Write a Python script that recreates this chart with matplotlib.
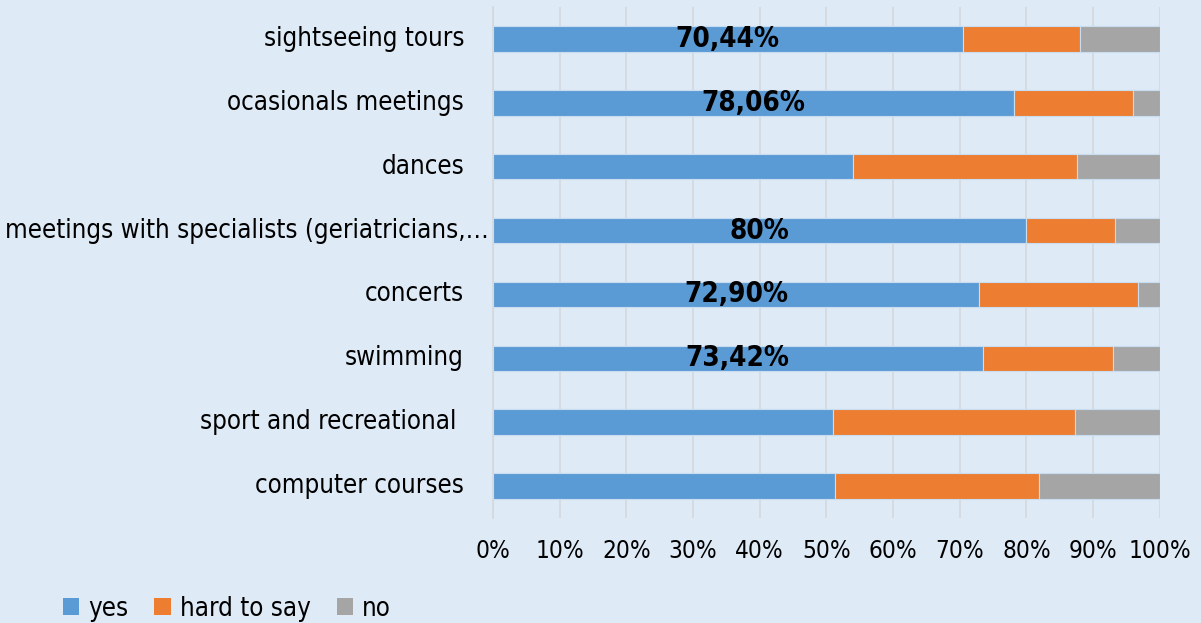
import matplotlib
matplotlib.use("Agg")
import matplotlib.pyplot as plt
from matplotlib import font_manager, transforms
from matplotlib.ticker import FixedLocator, FuncFormatter

categories = ["sightseeing tours", "ocasionals meetings", "dances",
              "meetings with specialists (geriatricians,\u2026", "concerts",
              "swimming", "sport and recreational ", "computer courses"]
yes = [70.44, 78.06, 54.06, 80.0, 72.90, 73.42, 51.03, 51.3]
hard = [17.63, 17.94, 33.54, 13.3, 23.8, 19.58, 36.27, 30.6]
no = [11.93, 4.0, 12.4, 6.7, 3.3, 7.0, 12.7, 18.1]
labels = ["70,44%", "78,06%", "", "80%", "72,90%", "73,42%", "", ""]
series_names = ["yes", "hard to say", "no"]
colors = ["#5B9BD5", "#ED7D31", "#A5A5A5"]
ticks = [0, 10, 20, 30, 40, 50, 60, 70, 80, 90, 100]

names = {f.name for f in font_manager.fontManager.ttflist}
if "Liberation Sans Narrow" in names:
    fam = ["Liberation Sans Narrow", "DejaVu Sans"]
    stretch = "normal"
else:
    fam = ["DejaVu Sans"]
    stretch = "condensed"
plt.rcParams["font.family"] = fam
plt.rcParams["font.stretch"] = stretch

bg = "#DEEAF6"
fig = plt.figure(figsize=(12.01, 6.23), dpi=100, facecolor=bg)
ax = fig.add_axes([0.4105, 0.1685, 0.5552, 0.8203])
ax.set_facecolor(bg)

n = len(categories)
ypos = list(range(n))
left2 = [a for a in yes]
left3 = [a + b for a, b in zip(yes, hard)]
for vals, lefts, c, nm in [(yes, [0] * n, colors[0], series_names[0]),
                           (hard, left2, colors[1], series_names[1]),
                           (no, left3, colors[2], series_names[2])]:
    ax.barh(ypos, vals, left=lefts, height=0.4, color=c, label=nm,
            edgecolor="#C9DDF0", linewidth=0.8, zorder=3)

for y, v, lab in zip(ypos, yes, labels):
    if lab:
        ax.text(v / 2, y, lab, ha="center", va="center", fontsize=20,
                fontweight="bold", color="black", zorder=4)

ax.set_xlim(0, 100)
ax.set_ylim(n - 0.5, -0.5)
ax.xaxis.set_major_locator(FixedLocator(ticks))
ax.xaxis.set_major_formatter(FuncFormatter(lambda v, p: f"{int(v)}%"))
ax.tick_params(axis="x", length=0, labelsize=17.5, pad=15)
ax.set_yticks(ypos)
ax.set_yticklabels([])
ax.tick_params(axis="y", length=0)
ax.grid(axis="x", color="#D4D8DC", linewidth=1.2, zorder=0)
for s in ["top", "right", "bottom"]:
    ax.spines[s].set_visible(False)
ax.spines["left"].set_color("#D4D8DC")
ax.spines["left"].set_linewidth(1.2)

trans = transforms.blended_transform_factory(ax.transAxes, ax.transData)
for y, cat in zip(ypos, categories):
    if cat.startswith("meetings with"):
        off = transforms.offset_copy(trans, fig=fig, x=-4, y=0, units="dots")
    else:
        off = transforms.offset_copy(trans, fig=fig, x=-29, y=0, units="dots")
    ax.text(0, y, cat, transform=off, ha="right", va="center", fontsize=18.5)

leg = fig.legend(loc="lower left", bbox_to_anchor=(0.033, -0.035), ncol=3,
                 frameon=False, fontsize=18.5, handlelength=0.65, handleheight=0.65,
                 handletextpad=0.35, columnspacing=1.0)
for h in leg.legend_handles:
    h.set_edgecolor("none")

fig.savefig("out.png", dpi=100, facecolor=bg)
